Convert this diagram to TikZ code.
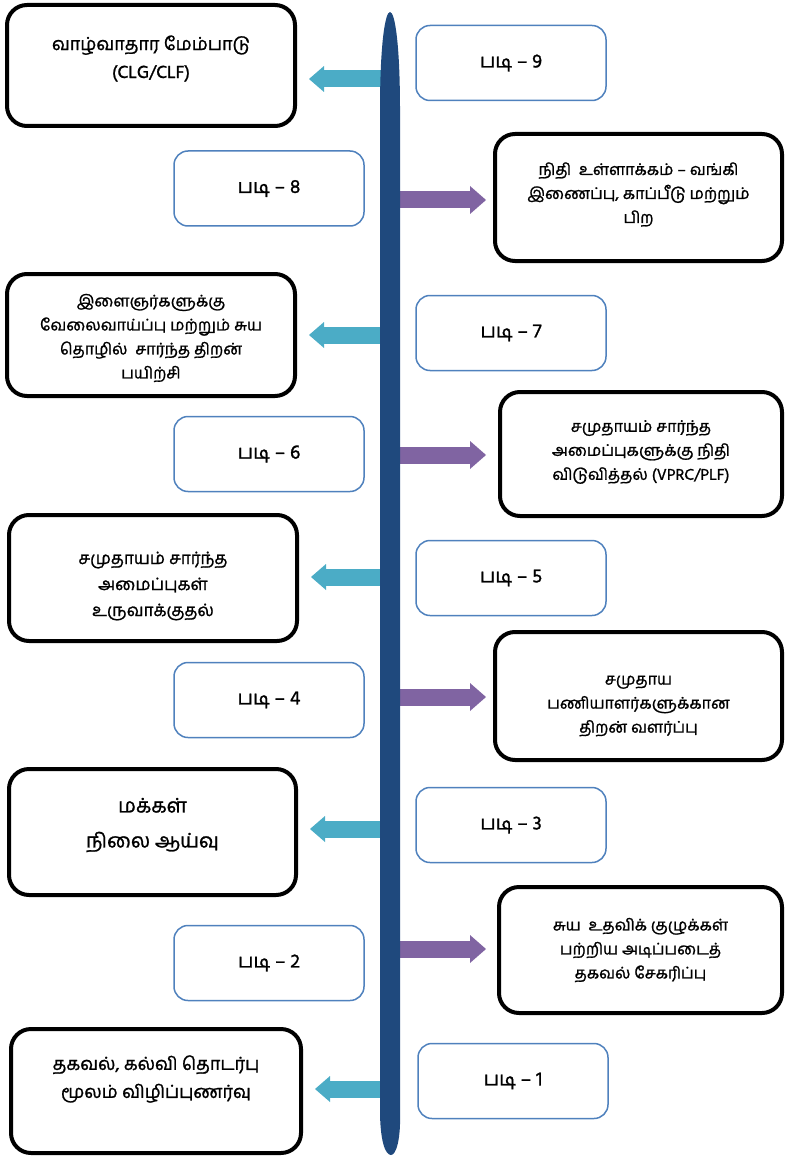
\documentclass[tikz,border=0pt]{standalone}
\usepackage{fontspec}
\newfontfamily\tam[Script=Tamil,FakeBold=1.2]{Hind Madurai}
\usetikzlibrary{arrows.meta}
\definecolor{spinecol}{HTML}{1F497D}
\definecolor{cyanarr}{HTML}{4BACC6}
\definecolor{purparr}{HTML}{8064A2}
\definecolor{stepblue}{HTML}{4F81BD}
\begin{document}
\begin{tikzpicture}[x=1pt,y=-1pt,
 blackbox/.style={draw=black, line width=4pt, rounded corners=20pt, fill=white, inner sep=0pt},
 stepbox/.style={draw=stepblue, line width=1.5pt, rounded corners=14pt, minimum width=190pt, minimum height=75pt, inner sep=0pt, fill=white, font=\tam\fontsize{19.5}{22}\selectfont},
 boxtext/.style={align=center, font=\tam\fontsize{16}{24}\selectfont, inner sep=0pt},
 leftarr/.style={draw=cyanarr, line width=17pt, -{Triangle[length=15pt,width=26pt,line width=0pt]}},
 rightarr/.style={draw=purparr, line width=17pt, -{Triangle[length=16pt,width=28pt,line width=0pt]}},
]
\useasboundingbox (0,0) rectangle (786,1158);

% black boxes, left
\node[blackbox, minimum width=288pt, minimum height=121pt] (L1) at (151,65.5) {};
\node[boxtext, font=\tam\fontsize{18}{28}\selectfont] (L1t) at ([yshift=7pt]L1.center) {வாழ்வாதார மேம்பாடு\\(CLG/CLF)};
\node[blackbox, minimum width=288pt, minimum height=122pt] (L2) at (151,335) {};
\node[boxtext] (L2t) at ([yshift=-3pt]L2.center) {இளைஞர்களுக்கு\\வேலைவாய்ப்பு மற்றும் சுய\\தொழில்\ \ சார்ந்த திறன்\\பயிற்சி};
\node[blackbox, minimum width=288pt, minimum height=126pt] (L3) at (153,578) {};
\node[boxtext, font=\tam\fontsize{17}{26}\selectfont] (L3t) at ([yshift=-8pt]L3.center) {சமுதாயம் சார்ந்த\\அமைப்புகள்\\உருவாக்குதல்};
\node[blackbox, minimum width=287pt, minimum height=126pt] (L4) at (152.5,832) {};
\node[boxtext, font=\tam\fontsize{20}{35}\selectfont] (L4t) at ([yshift=7pt]L4.center) {மக்கள்\\நிலை ஆய்வு};
\node[blackbox, minimum width=290pt, minimum height=124pt] (L5) at (156,1091) {};
\node[boxtext, font=\tam\fontsize{18}{28}\selectfont] (L5t) at ([yshift=12pt]L5.center) {தகவல், கல்வி தொடர்பு\\மூலம் விழிப்புணர்வு};

% black boxes, right
\node[blackbox, minimum width=287pt, minimum height=127pt] (R1) at (638.5,197.5) {};
\node[boxtext] (R1t) at ([yshift=3pt]R1.center) {நிதி\ \ உள்ளாக்கம் – வங்கி\\இணைப்பு, காப்பீடு மற்றும்\\பிற};
\node[blackbox, minimum width=282pt, minimum height=124pt] (R2) at (641,454) {};
\node[boxtext] (R2t) at ([yshift=2pt]R2.center) {சமுதாயம் சார்ந்த\\அமைப்புகளுக்கு நிதி\\விடுவித்தல் (VPRC/PLF)};
\node[blackbox, minimum width=287pt, minimum height=128pt] (R3) at (638.5,696) {};
\node[boxtext] (R3t) at ([yshift=-10pt]R3.center) {சமுதாய\\பணியாளர்களுக்கான\\திறன் வளர்ப்பு};
\node[blackbox, minimum width=283pt, minimum height=126pt] (R4) at (640.5,950) {};
\node[boxtext] (R4t) at (R4.center) {சுய\ \ உதவிக் குழுக்கள்\\பற்றிய அடிப்படைத்\\தகவல் சேகரிப்பு};

% step boxes
\node[stepbox] (S9) at (511,63) {படி\ – 9};
\node[stepbox] (S8) at (269,188.5) {படி\ – 8};
\node[stepbox] (S7) at (511,333) {படி\ – 7};
\node[stepbox] (S6) at (269,454) {படி\ – 6};
\node[stepbox] (S5) at (511,578) {படி\ – 5};
\node[stepbox] (S4) at (269,700) {படி\ – 4};
\node[stepbox] (S3) at (511,825) {படி\ – 3};
\node[stepbox] (S2) at (269,963) {படி\ – 2};
\node[stepbox] (S1) at (513,1081) {படி\ – 1};

% arrow start points on the spine
\coordinate (c1) at (382,79);
\coordinate (c2) at (382,335);
\coordinate (c3) at (382,577);
\coordinate (c4) at (382,829);
\coordinate (c5) at (382,1089);
\coordinate (p1) at (398,200);
\coordinate (p2) at (398,455);
\coordinate (p3) at (398,697);
\coordinate (p4) at (398,949);

\draw[leftarr, shorten >=12pt] (c1) -- (c1 -| L1.east);
\draw[leftarr, shorten >=12pt] (c2) -- (c2 -| L2.east);
\draw[leftarr, shorten >=12pt] (c3) -- (c3 -| L3.east);
\draw[leftarr, shorten >=12pt] (c4) -- (c4 -| L4.east);
\draw[leftarr, shorten >=12pt] (c5) -- (c5 -| L5.east);
\draw[rightarr, shorten >=7pt] (p1) -- (p1 -| R1.west);
\draw[rightarr, shorten >=12pt] (p2) -- (p2 -| R2.west);
\draw[rightarr, shorten >=7pt] (p3) -- (p3 -| R3.west);
\draw[rightarr, shorten >=11pt] (p4) -- (p4 -| R4.west);

% spine
\fill[spinecol] (380,110) .. controls (380,45) and (385,12) .. (390,12)
  .. controls (395,12) and (400,45) .. (400,110)
  -- (400,1110) .. controls (401,1140) and (396,1155) .. (391,1155)
  .. controls (385,1155) and (380,1140) .. (380,1110) -- cycle;
\end{tikzpicture}
\end{document}
